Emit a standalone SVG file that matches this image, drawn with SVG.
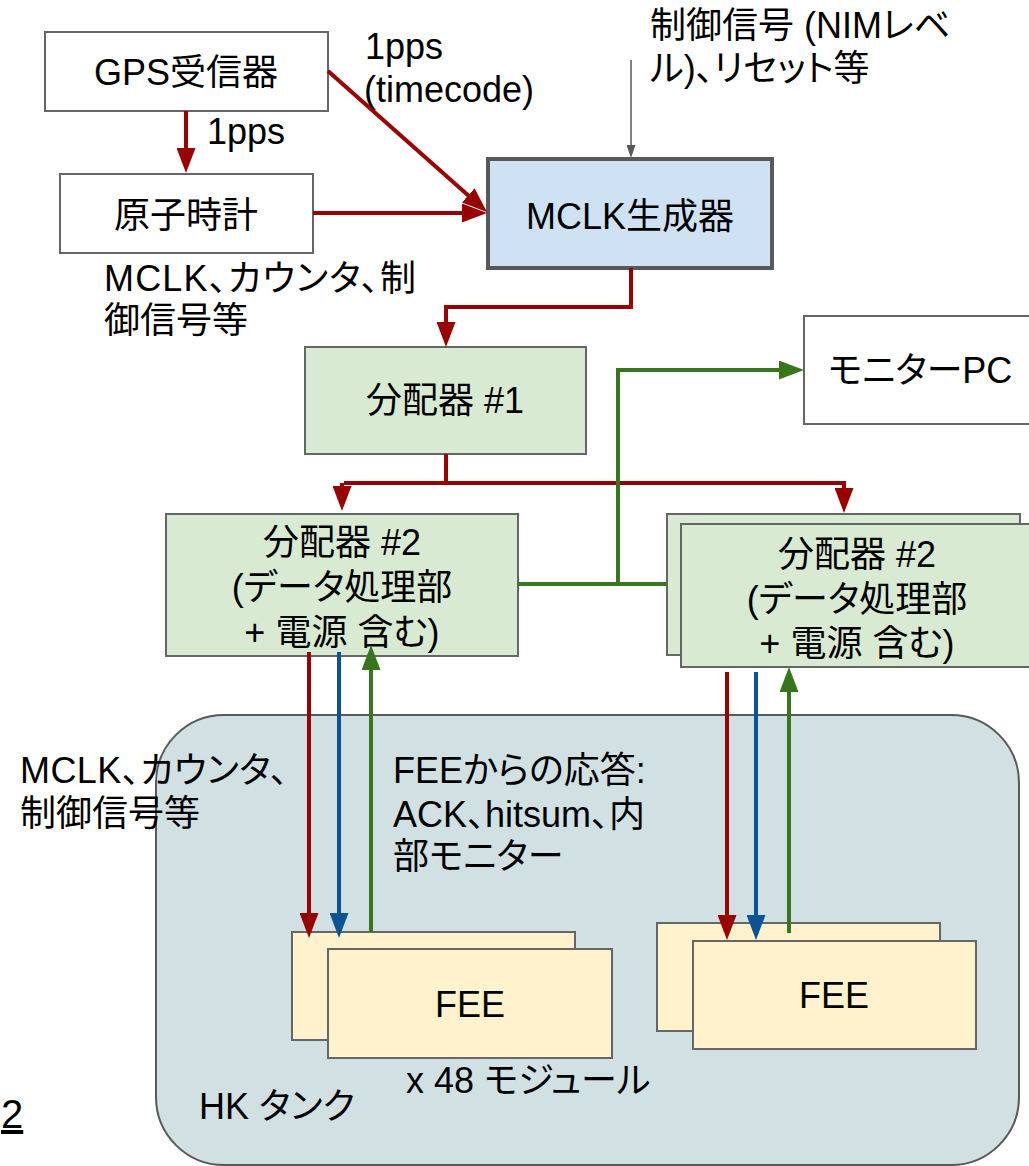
<svg xmlns="http://www.w3.org/2000/svg" width="1029" height="1166" viewBox="0 0 1029 1166">
<style>
text{font-family:"Liberation Sans","Noto Sans CJK JP",sans-serif;font-size:36px;fill:#000;font-feature-settings:"palt"}
.c{text-anchor:middle}
.box{stroke:#666;stroke-width:2}
.w{fill:#fff}
.g{fill:#d9ead3}
.y{fill:#fff2cc}
.r{fill:none;stroke:#990000;stroke-width:4}
.gr{fill:none;stroke:#38761d;stroke-width:4}
.b{fill:none;stroke:#0b5394;stroke-width:4}
</style>
<defs>
<marker id="ar" markerUnits="userSpaceOnUse" viewBox="0 0 25 19" markerWidth="25" markerHeight="19" refX="5" refY="9.5" orient="auto"><path d="M0,0L25,9.5L0,19z" fill="#990000"/></marker>
<marker id="ag" markerUnits="userSpaceOnUse" viewBox="0 0 25 19" markerWidth="25" markerHeight="19" refX="5" refY="9.5" orient="auto"><path d="M0,0L25,9.5L0,19z" fill="#38761d"/></marker>
<marker id="ab" markerUnits="userSpaceOnUse" viewBox="0 0 25 19" markerWidth="25" markerHeight="19" refX="5" refY="9.5" orient="auto"><path d="M0,0L25,9.5L0,19z" fill="#0b5394"/></marker>
<marker id="ay" markerUnits="userSpaceOnUse" viewBox="0 0 13 9" markerWidth="13" markerHeight="9" refX="3" refY="4.5" orient="auto"><path d="M0,0L13,4.5L0,9z" fill="#595959"/></marker>
</defs>
<rect width="1029" height="1166" fill="#fff"/>
<g id="hk-tank">
<rect x="156" y="715" width="863" height="450" rx="68" ry="68" fill="#d0e0e3" stroke="#595959" stroke-width="2"/>
<text x="199" y="1119">HK タンク</text>
<text x="406" y="1093">x 48 モジュール</text>
</g>
<g id="gps">
<rect class="box w" x="45" y="32" width="283" height="79"/>
<text class="c" x="186" y="85">GPS受信器</text>
</g>
<g id="atomic-clock">
<rect class="box w" x="60" y="174" width="253" height="79"/>
<text class="c" x="186" y="228">原子時計</text>
</g>
<g id="mclk">
<rect x="488" y="159" width="284" height="109" fill="#cfe2f3" stroke="#595959" stroke-width="4"/>
<text class="c" x="630" y="229">MCLK生成器</text>
</g>
<g id="dist1">
<rect class="box g" x="305" y="347" width="281" height="107"/>
<text class="c" x="445" y="413">分配器 #1</text>
</g>
<g id="monitor-pc">
<rect class="box w" x="804" y="316" width="240" height="108"/>
<text x="828" y="383">モニターPC</text>
</g>
<g id="dist2-left">
<rect class="box g" x="166" y="514" width="352" height="142"/>
<text class="c" x="342" y="555">分配器 #2</text>
<text class="c" x="342" y="600">(データ処理部</text>
<text class="c" x="342" y="645">+ 電源 含む)</text>
</g>
<g id="dist2-right">
<rect class="box g" x="667" y="514" width="353" height="141"/>
<rect class="box g" x="681" y="524" width="360" height="143"/>
<text class="c" x="857" y="567">分配器 #2</text>
<text class="c" x="857" y="612">(データ処理部</text>
<text class="c" x="857" y="656">+ 電源 含む)</text>
</g>
<g id="fee-left">
<rect class="box y" x="292" y="932" width="283" height="108"/>
<rect class="box y" x="328" y="949" width="284" height="109"/>
<text class="c" x="470" y="1017">FEE</text>
</g>
<g id="fee-right">
<rect class="box y" x="657" y="923" width="283" height="108"/>
<rect class="box y" x="693" y="941" width="283" height="108"/>
<text class="c" x="834" y="1008">FEE</text>
</g>
<g id="labels">
<text x="365" y="59">1pps</text>
<text x="364" y="102">(timecode)</text>
<text x="207" y="144">1pps</text>
<text x="650" y="38">制御信号 (NIMレベ</text>
<text x="650" y="81">ル)、リセット等</text>
<text x="104" y="291" textLength="312">MCLK、カウンタ、制</text>
<text x="104" y="333">御信号等</text>
<text x="20" y="783" textLength="268">MCLK、カウンタ、</text>
<text x="20" y="826">制御信号等</text>
<text x="393" y="783">FEEからの応答:</text>
<text x="393" y="827">ACK、hitsum、内</text>
<text x="393" y="869">部モニター</text>
<text x="1" y="1128" style="font-size:40px" text-decoration="underline">2</text>
</g>
<g id="connectors">
<path class="r" d="M186,111V153" marker-end="url(#ar)"/>
<path class="r" d="M328,71L472,198.7" marker-end="url(#ar)"/>
<path class="r" d="M313,213H467" marker-end="url(#ar)"/>
<path d="M631,60V148" fill="none" stroke="#595959" stroke-width="1.5" marker-end="url(#ay)"/>
<path class="r" d="M631,268V307H446V327" marker-end="url(#ar)"/>
<path class="r" d="M446,454V483"/>
<path class="r" d="M344,483H844V493" marker-end="url(#ar)"/>
<path class="r" d="M342,483V491" marker-end="url(#ar)"/>
<path class="gr" d="M518,584H667"/>
<path class="gr" d="M618,584V370H784" marker-end="url(#ag)"/>
<path class="r" d="M309,652V918" marker-end="url(#ar)"/>
<path class="b" d="M339,652V918" marker-end="url(#ab)"/>
<path class="gr" d="M371,932V665" marker-end="url(#ag)"/>
<path class="r" d="M727,672V920" marker-end="url(#ar)"/>
<path class="b" d="M756,672V920" marker-end="url(#ab)"/>
<path class="gr" d="M789,933V687" marker-end="url(#ag)"/>
</g>
</svg>
